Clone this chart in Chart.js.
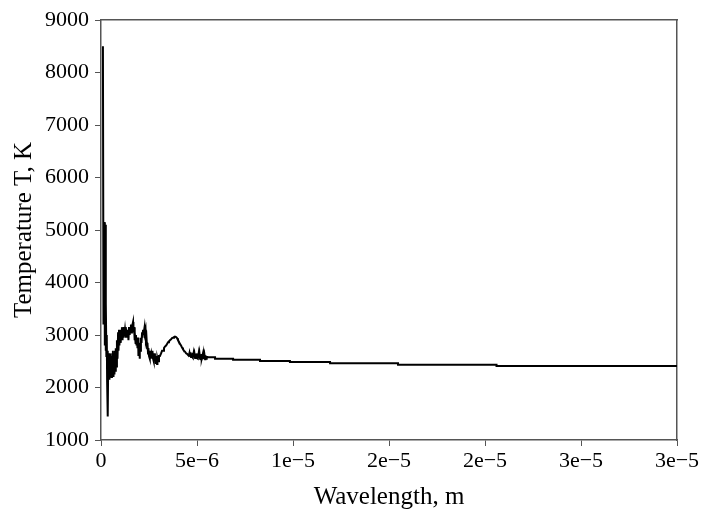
<!DOCTYPE html>
<html>
<head>
<meta charset="utf-8">
<script src="https://cdn.jsdelivr.net/npm/chart.js@4.4.1/dist/chart.umd.min.js"></script>
<style>
  html, body { margin: 0; padding: 0; background: #fff; }
  #wrap { width: 707px; height: 512px; }
</style>
</head>
<body>
<div id="wrap"><canvas id="chart" width="707" height="512"></canvas></div>
<script>
// wavelength in micrometres (axis labels are shown in metres)
const wavelengthUm = [
  0.10, 0.13, 0.17, 0.20, 0.22, 0.24, 0.26, 0.28, 0.30, 0.32,
  0.34, 0.36, 0.38, 0.40, 0.42, 0.44, 0.47, 0.49, 0.52, 0.55,
  0.57, 0.60, 0.62, 0.65, 0.68, 0.70, 0.73, 0.76, 0.78, 0.81,
  0.83, 0.86, 0.89, 0.91, 0.94, 0.96, 0.99, 1.02, 1.04, 1.07,
  1.09, 1.12, 1.15, 1.17, 1.20, 1.22, 1.25, 1.28, 1.30, 1.33,
  1.35, 1.38, 1.41, 1.43, 1.46, 1.48, 1.51, 1.54, 1.56, 1.59,
  1.61, 1.67, 1.69, 1.72, 1.74, 1.77, 1.80, 1.82, 1.85, 1.88,
  1.90, 1.93, 1.95, 1.98, 2.01, 2.03, 2.06, 2.08, 2.11, 2.14,
  2.16, 2.19, 2.21, 2.27, 2.29, 2.32, 2.34, 2.37, 2.40, 2.42,
  2.45, 2.47, 2.50, 2.53, 2.55, 2.58, 2.60, 2.63, 2.66, 2.68,
  2.71, 2.73, 2.76, 2.79, 2.81, 2.84, 2.86, 2.89, 2.92, 2.94,
  2.97, 3.02, 3.07, 3.13, 3.18, 3.23, 3.28, 3.33, 3.39, 3.44,
  3.49, 3.54, 3.59, 3.65, 3.70, 3.75, 3.80, 3.85, 3.91, 3.96,
  4.01, 4.06, 4.11, 4.17, 4.22, 4.27, 4.32, 4.38, 4.43, 4.48,
  4.53, 4.58, 4.61, 4.64, 4.66, 4.69, 4.71, 4.74, 4.77, 4.79,
  4.82, 4.84, 4.87, 4.90, 4.92, 4.95, 4.97, 5.00, 5.03, 5.05,
  5.08, 5.10, 5.13, 5.16, 5.18, 5.21, 5.23, 5.26, 5.29, 5.31,
  5.34, 5.36, 5.39, 5.42, 5.44, 5.47, 5.49, 5.52, 5.57, 5.60,
  5.94, 5.94, 6.88, 6.88, 8.28, 8.28, 9.84, 9.84, 11.93, 11.93,
  15.47, 15.47, 20.60, 20.60, 30.00
];
const temperatureK = [
  8500, 3200, 5150, 2800, 5100, 2700, 3600, 2600, 3000, 2100,
  2700, 1450, 2650, 2200, 2650, 2150, 2600, 2250, 2650, 2200,
  2600, 2350, 2700, 2200, 2650, 2250, 2700, 2300, 2750, 2400,
  2900, 2550, 3050, 2700, 3100, 2800, 3100, 2850, 3100, 2950,
  3150, 2900, 3100, 2950, 3150, 3000, 3100, 2950, 3150, 3000,
  3100, 2950, 3050, 2900, 3150, 3000, 3100, 3050, 3200, 3050,
  3150, 3250, 3050, 3150, 2900, 3050, 2850, 3000, 2800, 2950,
  2750, 2950, 2600, 2850, 2550, 2800, 2700, 2950, 2850, 3050,
  2950, 3100, 3000, 3150, 3050, 3100, 2900, 2950, 2750, 2850,
  2650, 2750, 2600, 2700, 2550, 2700, 2550, 2650, 2600, 2700,
  2550, 2650, 2500, 2650, 2500, 2600, 2450, 2600, 2450, 2550,
  2500, 2600, 2600, 2650, 2700, 2700, 2750, 2780, 2800, 2830,
  2860, 2880, 2900, 2920, 2940, 2950, 2960, 2970, 2960, 2940,
  2900, 2870, 2830, 2800, 2760, 2730, 2700, 2680, 2650, 2640,
  2620, 2610, 2660, 2600, 2670, 2580, 2650, 2590, 2660, 2570,
  2650, 2580, 2640, 2560, 2640, 2570, 2650, 2560, 2630, 2550,
  2640, 2560, 2650, 2550, 2630, 2540, 2640, 2550, 2620, 2540,
  2630, 2550, 2620, 2540, 2610, 2550, 2600, 2560, 2580, 2575,
  2575, 2550, 2550, 2530, 2530, 2505, 2505, 2485, 2485, 2460,
  2460, 2435, 2435, 2410, 2410
];
const xTickLabels = ['0', '5e\u22126', '1e\u22125', '2e\u22125', '2e\u22125', '3e\u22125', '3e\u22125'];

const points = wavelengthUm.map((x, i) => ({ x, y: temperatureK[i] }));
const axisColor = '#555';
const family = '"Liberation Serif", "Times New Roman", serif';
const tickFont = { family, size: 22 };
const titleFont = { family, size: 25 };

new Chart(document.getElementById('chart'), {
  type: 'line',
  data: {
    datasets: [{
      data: points,
      borderColor: '#000',
      borderWidth: 2,
      pointRadius: 0,
      tension: 0,
      fill: false
    }]
  },
  options: {
    responsive: false,
    animation: false,
    layout: { padding: 0 },
    plugins: { legend: { display: false }, tooltip: { enabled: false } },
    scales: {
      x: {
        type: 'linear',
        min: 0,
        max: 30,
        afterFit: s => { s.height = 72; },
        afterBuildTicks: s => { s.ticks = [0, 5, 10, 15, 20, 25, 30].map(v => ({ value: v })); },
        ticks: {
          color: '#000',
          font: tickFont,
          padding: 2,
          maxRotation: 0,
          callback: (v, i) => xTickLabels[i]
        },
        grid: { display: true, drawOnChartArea: false, drawTicks: true, tickLength: 6, color: axisColor },
        border: { display: true, color: axisColor, width: 1.5 },
        title: { display: true, text: 'Wavelength, m', color: '#000', font: titleFont, padding: { top: 0, bottom: 0 } }
      },
      y: {
        type: 'linear',
        min: 1000,
        max: 9000,
        afterFit: s => { s.width = 101; },
        ticks: { color: '#000', font: tickFont, stepSize: 1000, padding: 6, callback: v => String(v) },
        grid: { display: true, drawOnChartArea: false, drawTicks: true, tickLength: 6, color: axisColor },
        border: { display: true, color: axisColor, width: 1.5 },
        title: { display: true, text: 'Temperature T, K', color: '#000', font: titleFont, padding: { top: 9, bottom: 0 } }
      },
      x2: {
        type: 'linear',
        position: 'top',
        min: 0,
        max: 30,
        afterFit: s => { s.height = 20; },
        ticks: { display: false },
        grid: { display: false },
        border: { display: true, color: axisColor, width: 1.5 }
      },
      y2: {
        type: 'linear',
        position: 'right',
        min: 1000,
        max: 9000,
        afterFit: s => { s.width = 30; },
        ticks: { display: false },
        grid: { display: false },
        border: { display: true, color: axisColor, width: 1.5 }
      }
    }
  }
});
</script>
</body>
</html>
